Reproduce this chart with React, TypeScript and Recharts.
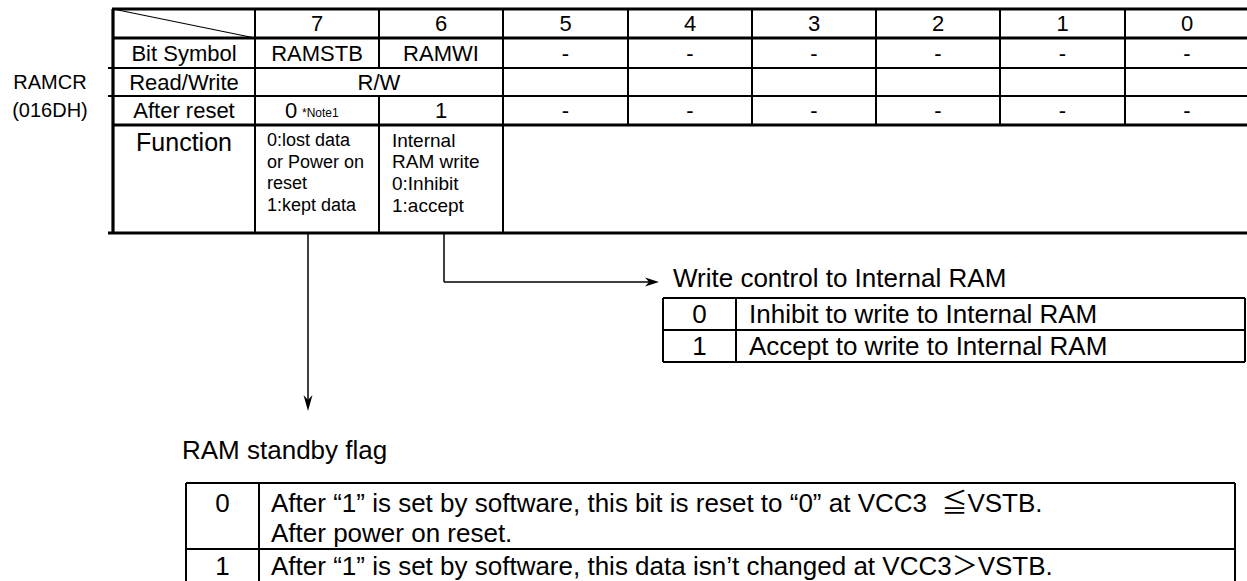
import React from 'react'
import { ComposedChart, XAxis, YAxis, ReferenceLine, ReferenceDot } from 'recharts'

// register layout: RAMCR (016DH)
const regName = 'RAMCR'
const regAddress = '(016DH)'
const bitNumbers = ['7', '6', '5', '4', '3', '2', '1', '0']
const rowLabels = ['Bit Symbol', 'Read/Write', 'After reset']
const bitSymbols = ['RAMSTB', 'RAMWI', '-', '-', '-', '-', '-', '-']
const readWrite = 'R/W'
const afterReset = ['0', '1', '-', '-', '-', '-', '-', '-']
const resetNote = '*Note1'
const functionLabel = 'Function'
const function7 = ['0:lost data', 'or Power on', 'reset', '1:kept data']
const function6 = ['Internal', 'RAM write', '0:Inhibit', '1:accept']

const writeTitle = 'Write control to Internal RAM'
const writeValues = ['0', '1']
const writeTexts = ['Inhibit to write to Internal RAM', 'Accept to write to Internal RAM']

const standbyTitle = 'RAM standby flag'
const standbyValues = ['0', '1']
const standbyTexts = [
  ['After \u201c1\u201d is set by software, this bit is reset to \u201c0\u201d at VCC3 \u00a0\u2266VSTB.', 'After power on reset.'],
  ['After \u201c1\u201d is set by software, this data isn\u2019t changed at VCC3\uff1eVSTB.'],
]

const W = 1247
const H = 581
const SANS = "'Liberation Sans', Arial, 'Noto Sans CJK JP', sans-serif"

// table geometry
const tLeft = 113
const colX = [255, 379, 503, 628, 752, 876, 1000, 1125, 1249]
const rowY = [9, 38, 68, 96, 125, 233]

const seg = (key: string, x1: number, y1: number, x2: number, y2: number, w = 2) => (
  <ReferenceLine
    key={key}
    segment={[{ x: x1, y: y1 }, { x: x2, y: y2 }]}
    stroke="#000"
    strokeWidth={w}
    ifOverflow="visible"
  />
)

const txt = (key: string, x: number, y: number, text: string, size = 22, anchor = 'middle') => (
  <ReferenceDot
    key={key}
    x={x}
    y={y}
    r={1}
    ifOverflow="visible"
    shape={(p: any) => (
      <text x={p.cx} y={p.cy} textAnchor={anchor} dominantBaseline="central" fontSize={size} fontFamily={SANS} fill="#000">
        {text}
      </text>
    )}
  />
)

const arrow = (key: string, x: number, y: number, dir: 'right' | 'down') => (
  <ReferenceDot
    key={key}
    x={x}
    y={y}
    r={1}
    ifOverflow="visible"
    shape={(p: any) => {
      const { cx, cy } = p
      const d = dir === 'right'
        ? `M${cx},${cy} L${cx - 14},${cy - 4.5} L${cx - 10},${cy} L${cx - 14},${cy + 4.5} Z`
        : `M${cx},${cy} L${cx - 4.5},${cy - 16} L${cx},${cy - 11} L${cx + 4.5},${cy - 16} Z`
      return <path d={d} fill="#000" />
    }}
  />
)

export default function App() {
  const cellMid = (i: number) => (colX[i] + colX[i + 1]) / 2
  const rowMid = (j: number) => (rowY[j] + rowY[j + 1]) / 2
  const lines: React.ReactNode[] = []

  // horizontal rules of the register table
  lines.push(seg('h0', tLeft - 1, rowY[0], W, rowY[0], 3.2))
  lines.push(seg('h1', tLeft - 1, rowY[1], W, rowY[1], 3.2))
  lines.push(seg('h2', tLeft - 5, rowY[2], W, rowY[2], 1.8))
  lines.push(seg('h3', tLeft - 5, rowY[3], W, rowY[3], 1.8))
  lines.push(seg('h4', tLeft - 1, rowY[4], W, rowY[4], 3.2))
  lines.push(seg('h5', tLeft - 5, rowY[5], W, rowY[5], 3.2))
  lines.push(seg('vl', tLeft, rowY[0], tLeft, rowY[5], 3.2))
  lines.push(seg('diag', tLeft, rowY[0], colX[0], rowY[1], 1.2))
  lines.push(seg('v0', colX[0], rowY[0], colX[0], rowY[5], 2))
  lines.push(seg('v1a', colX[1], rowY[0], colX[1], rowY[2], 2))
  lines.push(seg('v1b', colX[1], rowY[3], colX[1], rowY[5], 2))
  lines.push(seg('v2', colX[2], rowY[0], colX[2], rowY[5], 2))
  colX.slice(3, 8).forEach((x, i) => lines.push(seg(`vc${i}`, x, rowY[0], x, rowY[4], 2)))

  // arrows
  lines.push(seg('a1v', 444, rowY[5], 444, 282, 1.5))
  lines.push(seg('a1h', 444, 282, 652, 282, 1.5))
  lines.push(arrow('a1', 659, 282, 'right'))
  lines.push(seg('a2v', 308, rowY[5], 308, 400, 1.5))
  lines.push(arrow('a2', 308, 411, 'down'))

  // write control table
  const wx = [663, 736, 1245]
  const wy = [298, 330, 362]
  wy.forEach((y, i) => lines.push(seg(`wh${i}`, wx[0], y, wx[2], y, 2)))
  wx.forEach((x, i) => lines.push(seg(`wv${i}`, x, wy[0], x, wy[2], 2)))

  // standby table
  const sx = [186, 259, 1235]
  const sy = [483, 549, 584]
  lines.push(seg('sh0', sx[0], sy[0], sx[2], sy[0], 2))
  lines.push(seg('sh1', sx[0], sy[1], sx[2], sy[1], 2))
  sx.forEach((x, i) => lines.push(seg(`sv${i}`, x, sy[0], x, sy[2], 2)))

  const texts: React.ReactNode[] = []
  texts.push(txt('reg', 50, 82, regName, 20))
  texts.push(txt('addr', 50, 110, regAddress, 20))
  bitNumbers.forEach((b, i) => texts.push(txt(`bn${i}`, cellMid(i), rowMid(0), b)))
  rowLabels.forEach((l, j) => texts.push(txt(`rl${j}`, (tLeft + colX[0]) / 2, rowMid(j + 1), l)))
  bitSymbols.forEach((s, i) => texts.push(txt(`bs${i}`, cellMid(i), rowMid(1), s)))
  texts.push(txt('rw', colX[1], rowMid(2), readWrite))
  afterReset.forEach((v, i) => {
    if (i === 0) {
      texts.push(txt('ar0', 291, rowMid(3), v))
      texts.push(txt('note', 302, rowMid(3) + 2, resetNote, 12, 'start'))
    } else {
      texts.push(txt(`ar${i}`, cellMid(i), rowMid(3), v))
    }
  })
  texts.push(txt('fn', (tLeft + colX[0]) / 2, 142, functionLabel, 25))
  function7.forEach((l, k) => texts.push(txt(`f7${k}`, 267, 140 + k * 21.7, l, 18, 'start')))
  function6.forEach((l, k) => texts.push(txt(`f6${k}`, 392, 140 + k * 21.7, l, 19, 'start')))

  texts.push(txt('wt', 673, 278, writeTitle, 26, 'start'))
  writeValues.forEach((v, i) => {
    texts.push(txt(`wv${i}`, (wx[0] + wx[1]) / 2, (wy[i] + wy[i + 1]) / 2, v, 26))
    texts.push(txt(`wd${i}`, 749, (wy[i] + wy[i + 1]) / 2, writeTexts[i], 26, 'start'))
  })

  texts.push(txt('st', 182, 450, standbyTitle, 26, 'start'))
  standbyValues.forEach((v, i) => {
    const top = i === 0 ? 503 : 566
    texts.push(txt(`sv${i}`, (sx[0] + sx[1]) / 2, top, v, 26))
    standbyTexts[i].forEach((l, k) => texts.push(txt(`sd${i}${k}`, 271, top + k * 30, l, 26, 'start')))
  })

  return (
    <div style={{ position: 'absolute', left: 0, top: 0, background: '#fff' }}>
      <ComposedChart width={W} height={H} data={[]} margin={{ top: 0, right: 0, bottom: 0, left: 0 }}>
        <XAxis type="number" dataKey="x" domain={[0, W]} hide allowDataOverflow />
        <YAxis type="number" dataKey="y" domain={[0, H]} reversed hide allowDataOverflow />
        {lines}
        {texts}
      </ComposedChart>
    </div>
  )
}
